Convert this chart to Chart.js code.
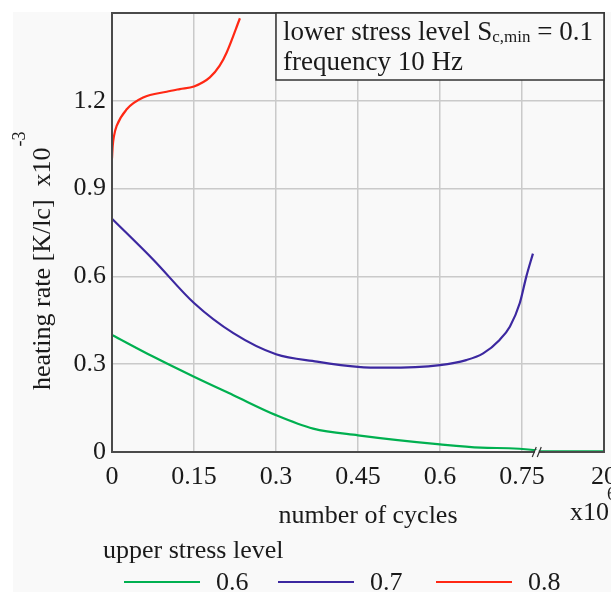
<!DOCTYPE html>
<html>
<head>
<meta charset="utf-8">
<script src="https://cdn.jsdelivr.net/npm/chart.js@4.4.1/dist/chart.umd.min.js"></script>
<style>
  body { margin: 0; background: #ffffff; }
  canvas { display: block; }
</style>
</head>
<body>
<canvas id="heat_chart" width="611" height="592"></canvas>
<script>
// number of cycles (x10^6, broken axis after 0.75)
const xTickLabels = ['0', '0.15', '0.3', '0.45', '0.6', '0.75', '20'];
const yTickLabels = ['0', '0.3', '0.6', '0.9', '1.2', ''];

// upper stress level 0.6
const x_06 = [0, 0.075, 0.15, 0.222, 0.3, 0.368, 0.45, 0.6, 0.675, 0.775, 0.78, 0.9];
const y_06 = [0.40, 0.326, 0.257, 0.194, 0.126, 0.080, 0.057, 0.026, 0.015, 0.006, 0.002, 0.002];

// upper stress level 0.7
const x_07 = [0, 0.0756, 0.15, 0.222, 0.3, 0.375, 0.45, 0.5, 0.6, 0.648, 0.679, 0.709, 0.728, 0.746, 0.758, 0.77];
const y_07 = [0.797, 0.657, 0.509, 0.406, 0.334, 0.309, 0.291, 0.288, 0.297, 0.314, 0.337, 0.383, 0.429, 0.509, 0.60, 0.678];

// upper stress level 0.8
const x_08 = [0, 0.0013, 0.0037, 0.0085, 0.027, 0.057, 0.1, 0.124, 0.15, 0.179, 0.197, 0.21, 0.234];
const y_08 = [1.003, 1.046, 1.08, 1.114, 1.171, 1.211, 1.231, 1.24, 1.249, 1.28, 1.32, 1.366, 1.482];

const seriesLabels = ['0.6', '0.7', '0.8'];
const seriesColors = ['#00b050', '#3c28a0', '#ff2814'];

const serif = '"Liberation Serif", "DejaVu Serif", serif';
const bg = '#f9f9f9';

function pairs(xs, ys) {
    return xs.map(function(x, i) { return { x: x, y: ys[i] }; });
}

// draws frame, axis break, note box, titles and legend
const decorPlugin = {
    id: 'decor',
    beforeDraw: function(chart) {
        const ctx = chart.ctx;
        ctx.save();
        ctx.fillStyle = '#ffffff';
        ctx.fillRect(0, 0, chart.width, chart.height);
        ctx.fillStyle = bg;
        ctx.fillRect(13, 12, chart.width - 13, chart.height - 12);
        ctx.restore();
    },
    afterDraw: function(chart) {
        const ctx = chart.ctx;
        const a = chart.chartArea;
        const xs = chart.scales.x;
        ctx.save();

        // frame
        ctx.strokeStyle = '#4a4a4a';
        ctx.lineWidth = 2;
        ctx.strokeRect(a.left, a.top, a.right - a.left, a.bottom - a.top);

        // axis break
        const bx = xs.getPixelForValue(0.777);
        ctx.fillStyle = bg;
        ctx.fillRect(bx - 2, a.bottom - 2, 4, 4);
        ctx.strokeStyle = '#333';
        ctx.lineWidth = 1.2;
        [-2.5, 2.5].forEach(function(d) {
            ctx.beginPath();
            ctx.moveTo(bx + d - 2, a.bottom + 5);
            ctx.lineTo(bx + d + 2, a.bottom - 5);
            ctx.stroke();
        });

        // note box
        ctx.fillStyle = bg;
        ctx.fillRect(276, a.top, a.right - 276, 67);
        ctx.strokeStyle = '#333';
        ctx.lineWidth = 1.5;
        ctx.strokeRect(276, a.top, a.right - 276, 67);
        ctx.fillStyle = '#1a1a1a';
        ctx.textBaseline = 'alphabetic';
        ctx.textAlign = 'left';
        ctx.font = '27px ' + serif;
        let tx = 283;
        ctx.fillText('lower stress level S', tx, 40);
        tx += ctx.measureText('lower stress level S').width;
        ctx.font = '17px ' + serif;
        ctx.fillText('c,min', tx, 42);
        tx += ctx.measureText('c,min').width;
        ctx.font = '27px ' + serif;
        ctx.fillText(' = 0.1', tx, 40);
        ctx.fillText('frequency 10 Hz', 283, 70);

        // y title
        ctx.save();
        ctx.translate(50, 390);
        ctx.rotate(-Math.PI / 2);
        ctx.font = '26px ' + serif;
        const yt = 'heating rate [K/lc]  x10';
        ctx.fillText(yt, 0, 0);
        const yw = ctx.measureText(yt).width;
        ctx.font = '18px ' + serif;
        ctx.fillText('-3', yw + 1, -25);
        ctx.restore();

        // x title
        ctx.font = '26px ' + serif;
        ctx.textAlign = 'center';
        ctx.fillText('number of cycles', 368, 523);
        ctx.textAlign = 'left';
        ctx.fillText('x10', 570, 520);
        ctx.font = '18px ' + serif;
        ctx.fillText('6', 607, 500);

        // legend
        ctx.font = '26px ' + serif;
        ctx.fillText('upper stress level', 103, 558);
        const lx = [124, 278, 436];
        seriesLabels.forEach(function(lab, i) {
            ctx.strokeStyle = seriesColors[i];
            ctx.lineWidth = 2;
            ctx.beginPath();
            ctx.moveTo(lx[i], 582);
            ctx.lineTo(lx[i] + 76, 582);
            ctx.stroke();
            ctx.fillStyle = '#1a1a1a';
            ctx.fillText(lab, lx[i] + 92, 590);
        });

        ctx.restore();
    }
};

let heat_chart = new Chart(document.getElementById('heat_chart'), {
    type: 'line',
    data: {
        datasets: [
            { label: seriesLabels[0], data: pairs(x_06, y_06), borderColor: seriesColors[0] },
            { label: seriesLabels[1], data: pairs(x_07, y_07), borderColor: seriesColors[1] },
            { label: seriesLabels[2], data: pairs(x_08, y_08), borderColor: seriesColors[2] }
        ]
    },
    options: {
        responsive: false,
        animation: false,
        layout: {
            padding: { top: 13, right: 7, left: 0, bottom: 0 }
        },
        elements: {
            point: { radius: 0 },
            line: { borderWidth: 2.2, cubicInterpolationMode: 'monotone', fill: false }
        },
        scales: {
            x: {
                type: 'linear',
                min: 0,
                max: 0.9,
                border: { display: false },
                grid: { color: '#cacaca', lineWidth: 1.5, drawTicks: false },
                ticks: {
                    stepSize: 0.15,
                    padding: 10,
                    maxRotation: 0,
                    autoSkip: false,
                    color: '#1a1a1a',
                    font: { family: serif, size: 26 },
                    callback: function(v) { return xTickLabels[Math.round(v / 0.15)]; }
                },
                afterFit: function(scale) {
                    scale.height = 140;
                    scale.paddingLeft = 0;
                    scale.paddingRight = 0;
                }
            },
            y: {
                min: 0,
                max: 1.5,
                border: { display: false },
                grid: { color: '#cacaca', lineWidth: 1.5, drawTicks: false },
                ticks: {
                    stepSize: 0.3,
                    padding: 6,
                    color: '#1a1a1a',
                    font: { family: serif, size: 26 },
                    callback: function(v) { return yTickLabels[Math.round(v / 0.3)]; }
                },
                afterFit: function(scale) {
                    scale.width = 112;
                    scale.paddingTop = 0;
                    scale.paddingBottom = 0;
                }
            }
        },
        plugins: {
            legend: { display: false },
            tooltip: { enabled: false }
        }
    },
    plugins: [decorPlugin]
});
</script>
</body>
</html>
